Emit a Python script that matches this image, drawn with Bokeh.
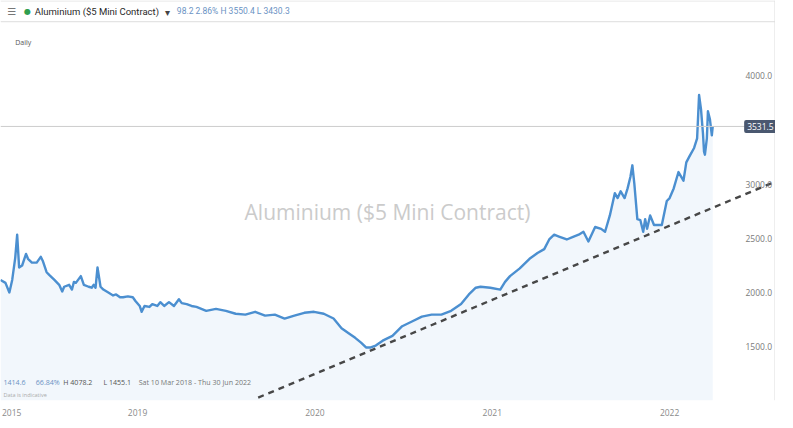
from bokeh.plotting import figure
from bokeh.models import Label, Span, Range1d, FixedTicker
from bokeh.embed import file_html
from bokeh.resources import INLINE

# ---- data (fractional year, price) ----
dates = [2018.227, 2018.255, 2018.277, 2018.293, 2018.310, 2018.321, 2018.332, 2018.349, 2018.371, 2018.382,
         2018.404, 2018.431, 2018.454, 2018.465, 2018.487, 2018.503, 2018.531, 2018.558, 2018.575, 2018.586,
         2018.614, 2018.630, 2018.641, 2018.652, 2018.680, 2018.697, 2018.724, 2018.741, 2018.752, 2018.763,
         2018.774, 2018.791, 2018.807, 2018.835, 2018.862, 2018.879, 2018.901, 2018.918, 2018.945, 2018.973,
         2018.989, 2019.012, 2019.023, 2019.039, 2019.067, 2019.083, 2019.111, 2019.128, 2019.150, 2019.177,
         2019.205, 2019.233, 2019.249, 2019.277, 2019.304, 2019.332, 2019.387, 2019.442, 2019.498, 2019.553,
         2019.608, 2019.663, 2019.719, 2019.774, 2019.829, 2019.884, 2019.940, 2019.995, 2020.050, 2020.105,
         2020.150, 2020.188, 2020.227, 2020.260, 2020.288, 2020.315, 2020.343, 2020.382, 2020.437, 2020.492,
         2020.547, 2020.603, 2020.658, 2020.713, 2020.768, 2020.824, 2020.868, 2020.907, 2020.934, 2020.989,
         2021.045, 2021.072, 2021.100, 2021.155, 2021.210, 2021.255, 2021.293, 2021.321, 2021.349, 2021.376,
         2021.420, 2021.459, 2021.487, 2021.514, 2021.542, 2021.580, 2021.614, 2021.636, 2021.663, 2021.691,
         2021.707, 2021.724, 2021.746, 2021.763, 2021.779, 2021.790, 2021.801, 2021.818, 2021.835, 2021.851,
         2021.862, 2021.873, 2021.890, 2021.912, 2021.940, 2021.956, 2021.967, 2021.984, 2022.000, 2022.023,
         2022.050, 2022.078, 2022.094, 2022.111, 2022.138, 2022.155, 2022.166, 2022.177, 2022.188, 2022.194,
         2022.199, 2022.210, 2022.216, 2022.227, 2022.238, 2022.243]
prices = [2116, 2089, 2000, 2116, 2320, 2533, 2231, 2249, 2356, 2311,
          2276, 2276, 2329, 2293, 2187, 2160, 2116, 2071, 2009, 2053,
          2071, 2027, 2098, 2089, 2151, 2071, 2053, 2044, 2071, 2044,
          2231, 2053, 2027, 2000, 1973, 1982, 1956, 1956, 1964, 1956,
          1920, 1876, 1822, 1876, 1867, 1893, 1876, 1911, 1876, 1911,
          1876, 1938, 1902, 1893, 1876, 1867, 1831, 1849, 1831, 1804,
          1796, 1822, 1787, 1796, 1760, 1787, 1813, 1822, 1804, 1760,
          1671, 1627, 1582, 1538, 1493, 1493, 1511, 1556, 1600, 1689,
          1733, 1778, 1796, 1796, 1831, 1893, 1982, 2044, 2053, 2044,
          2027, 2098, 2151, 2222, 2311, 2364, 2400, 2489, 2533, 2516,
          2489, 2516, 2533, 2560, 2471, 2604, 2587, 2560, 2711, 2916,
          2871, 2933, 2871, 2960, 3067, 3173, 3004, 2676, 2667, 2560,
          2676, 2587, 2711, 2622, 2622, 2622, 2711, 2844, 2871, 2960,
          3111, 3031, 3200, 3253, 3333, 3422, 3822, 3689, 3467, 3298,
          3271, 3422, 3671, 3600, 3449, 3531.5]

trend_dates = [2019.680, 2022.608]
trend_prices = [1031, 3031]

last_price = 3531.5
y_ticks = [1500, 2000, 2500, 3000, 3500, 4000]
x_ticks = [2018.29, 2019.0, 2020.0, 2021.0, 2022.0]
x_tick_labels = ["2015", "2019", "2020", "2021", "2022"]

title = "Aluminium ($5 Mini Contract)"
header_stats = "98.2  2.86%  H 3550.4  L 3430.3"
footer_blue = ["1414.6", "66.84%"]
footer_dark = ["H 4078.2", "L 1455.1"]
footer_range = "Sat 10 Mar 2018 - Thu 30 Jun 2022"

# ---- ranges ----
X0, X1 = 2018.227, 2022.597
Y0, Y1 = 1004.0, 4693.0
REF_W, REF_H = 791.0, 415.0


def fx(px):
    return X0 + px * (X1 - X0) / REF_W


def fy(py):
    return Y1 - py * (Y1 - Y0) / REF_H


FONT = "Open Sans"
HFONT = "Roboto"

p = figure(frame_width=775, frame_height=400,
           x_range=Range1d(X0, X1), y_range=Range1d(Y0, Y1),
           y_axis_location="right",
           output_backend="svg", toolbar_location=None,
           min_border_left=0, min_border_right=0, min_border_top=0, min_border_bottom=0)
p.outline_line_color = None
p.xgrid.visible = False
p.ygrid.visible = False
p.background_fill_color = "white"
p.border_fill_color = "white"

# fill + line
p.varea(x=dates, y1=Y0, y2=prices, fill_color="#f2f7fc")
p.add_layout(Span(location=last_price, dimension="width", line_color="#cccccc", line_width=1))
p.line(dates, prices, line_color="#4b8fd0", line_width=2.4, line_join="round")
p.line(trend_dates, trend_prices, line_color="#474747", line_width=2.4, line_dash="6 5")

# frame lines
p.add_layout(Span(location=fy(22), dimension="width", line_color="#dddddd", line_width=1))
p.add_layout(Span(location=fy(0.5), dimension="width", line_color="#e2e2e2", line_width=1))
p.add_layout(Span(location=fx(790.5), dimension="height", line_color="#dddddd", line_width=1))

# axes
xa = p.xaxis[0]
xa.ticker = FixedTicker(ticks=x_ticks)
xa.major_label_overrides = {t: l for t, l in zip(x_ticks, x_tick_labels)}
xa.axis_line_color = None
xa.major_tick_line_color = None
xa.minor_tick_line_color = None
xa.major_label_text_font = FONT
xa.major_label_text_font_size = "8.5px"
xa.major_label_text_color = "#8a8a8a"
xa.major_label_standoff = 2

ya = p.yaxis[0]
ya.ticker = FixedTicker(ticks=y_ticks)
ya.formatter.use_scientific = False
ya.major_label_overrides = {t: f"{t:.1f}" for t in y_ticks}
ya.axis_line_color = None
ya.major_tick_line_color = None
ya.minor_tick_line_color = None
ya.major_label_text_font = FONT
ya.major_label_text_font_size = "8.5px"
ya.major_label_text_color = "#7a7a7a"
ya.major_label_standoff = -36

# price tag
p.add_layout(Label(x=fx(759), y=last_price, text=f"{last_price:.1f}", text_color="white",
                   text_font=FONT, text_font_size="8.5px", text_baseline="middle",
                   background_fill_color="#4a5870", padding=3, border_radius=2))

# header
p.add_layout(Label(x=fx(7), y=fy(11), text="\u2630", text_color="#777777", text_font="DejaVu Sans",
                   text_font_size="10px", text_baseline="middle"))
p.add_layout(Label(x=fx(24), y=fy(11), text="\u25cf", text_color="#2f9e4f", text_font="DejaVu Sans",
                   text_font_size="8px", text_baseline="middle"))
p.add_layout(Label(x=fx(35), y=fy(11), text=title, text_color="#2a2a2a", text_font=HFONT,
                   text_font_size="9.5px", text_baseline="middle"))
p.add_layout(Label(x=fx(168), y=fy(12), text="\u25be", text_color="#444444", text_font="DejaVu Sans",
                   text_font_size="10px", text_baseline="middle"))
p.add_layout(Label(x=fx(180), y=fy(11), text=header_stats, text_color="#6b93c4", text_font=HFONT,
                   text_font_size="8.5px", text_baseline="middle"))
p.add_layout(Label(x=fx(15), y=fy(44), text="Daily", text_color="#555555", text_font=FONT,
                   text_font_size="7px", text_baseline="middle"))

# watermark
p.add_layout(Label(x=fx(395), y=fy(219), text=title, text_color="#cbcbcb", text_font=FONT,
                   text_font_size="21px", text_align="center", text_baseline="middle"))

# footer
for txt, px, col in [(footer_blue[0], 3, "#6b93c4"), (footer_blue[1], 36, "#6b93c4"),
                     (footer_dark[0], 64, "#555555"), (footer_dark[1], 105, "#555555"),
                     (footer_range, 141, "#777777")]:
    p.add_layout(Label(x=fx(px), y=fy(396), text=txt, text_color=col, text_font=FONT,
                       text_font_size="7.1px", text_baseline="middle"))
p.add_layout(Label(x=fx(3), y=fy(409), text="Data is indicative", text_color="#aaaaaa", text_font=FONT,
                   text_font_size="5.5px", text_baseline="middle"))

open("out.html", "w").write(file_html(p, INLINE))
